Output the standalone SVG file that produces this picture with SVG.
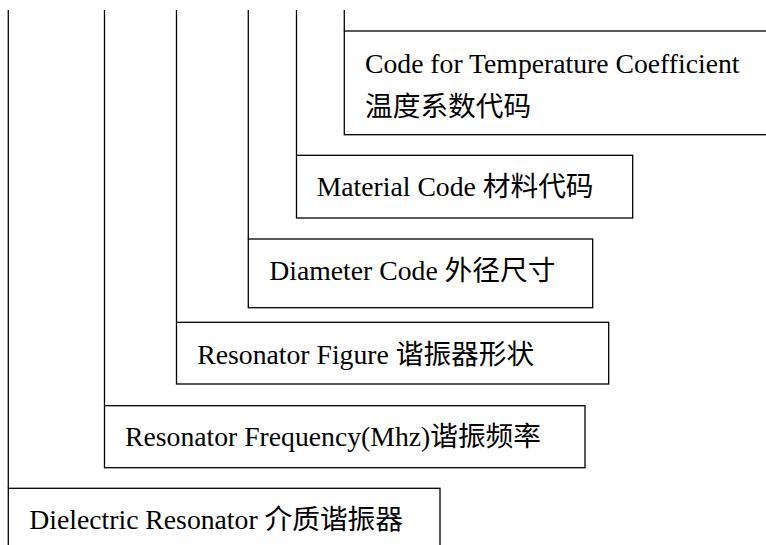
<svg xmlns="http://www.w3.org/2000/svg" width="766" height="545" viewBox="0 0 766 545">
<style>
  .box { fill: none; stroke: #000; stroke-width: 1.3; }
  .conn line { stroke: #000; stroke-width: 1.3; }
  text { font-family: "Liberation Serif", "Noto Sans CJK SC", serif; font-size: 27.7px; fill: #000; }
</style>
<rect width="766" height="545" fill="#fff"/>
<g id="connectors" class="conn">
  <line x1="8.3" y1="10" x2="8.3" y2="488.3"/>
  <line x1="104.5" y1="10" x2="104.5" y2="405.7"/>
  <line x1="176.5" y1="10" x2="176.5" y2="322.3"/>
  <line x1="248.3" y1="10" x2="248.3" y2="239"/>
  <line x1="296.5" y1="10" x2="296.5" y2="155.3"/>
  <line x1="344.3" y1="10" x2="344.3" y2="31"/>
</g>
<g id="node-temperature">
  <rect class="box" x="344.3" y="31" width="440" height="103.7"/>
  <text x="365" y="72.8">Code for Temperature Coefficient</text>
  <text x="365" y="115.5">温度系数代码</text>
</g>
<g id="node-material">
  <rect class="box" x="296.5" y="155.3" width="336.2" height="62.7"/>
  <text x="316.7" y="195.5">Material Code 材料代码</text>
</g>
<g id="node-diameter">
  <rect class="box" x="248.3" y="239" width="344.4" height="68.7"/>
  <text x="269.3" y="280.3">Diameter Code 外径尺寸</text>
</g>
<g id="node-figure">
  <rect class="box" x="176.5" y="322.3" width="432.2" height="61.7"/>
  <text x="197.3" y="363.5">Resonator Figure 谐振器形状</text>
</g>
<g id="node-frequency">
  <rect class="box" x="104.5" y="405.7" width="480.5" height="62"/>
  <text x="125" y="446.3">Resonator Frequency(Mhz)谐振频率</text>
</g>
<g id="node-dielectric">
  <rect class="box" x="8.3" y="488.3" width="431.7" height="80"/>
  <text x="29.3" y="528.5">Dielectric Resonator 介质谐振器</text>
</g>
</svg>
